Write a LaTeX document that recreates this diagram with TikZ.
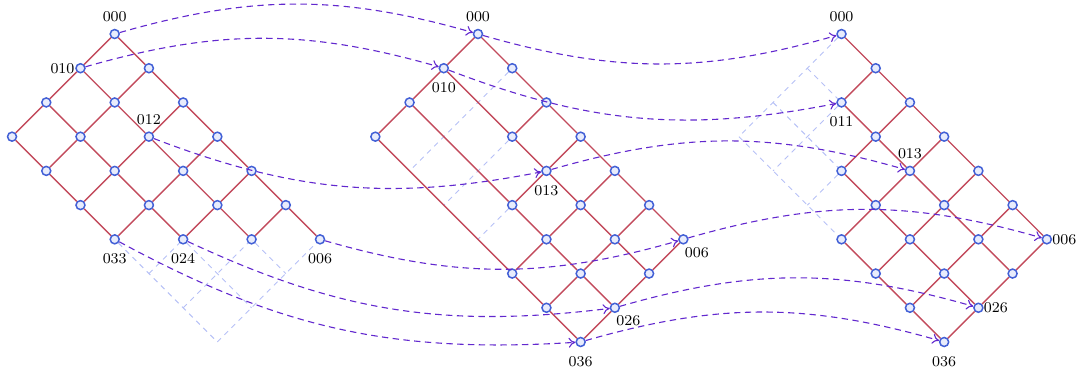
\documentclass[tikz,border=0pt]{standalone}
\usetikzlibrary{arrows.meta}
\definecolor{edgered}{RGB}{194,74,92}
\definecolor{nodeblue}{RGB}{66,96,214}
\definecolor{nodefill}{RGB}{232,236,252}
\definecolor{arrowpurple}{RGB}{98,40,206}
\definecolor{ghostblue}{RGB}{182,192,246}
\tikzset{
  vtx/.style={circle, draw=nodeblue, fill=nodefill, line width=0.75pt, minimum size=4.5pt, inner sep=0pt},
  edge/.style={draw=edgered, line width=0.7pt},
  ghost/.style={draw=ghostblue, line width=0.45pt, dash pattern=on 2.6pt off 2.4pt},
  mapping/.style={draw=arrowpurple, line width=0.55pt, dash pattern=on 3.2pt off 2.2pt, -{To[length=3.4pt,width=5pt]}},
  lbl/.style={inner sep=0pt, font=\fontsize{7.5}{9}\selectfont},
}
\begin{document}
\begin{tikzpicture}[x=0.5pt,y=0.5pt]
\useasboundingbox (0,0) rectangle (1077,-372);
% grid positions
\foreach \p/\X in {a/114.7, b/478, c/841.5}{
  \foreach \i in {0,...,3}{
    \foreach \j in {0,...,6}{
      \coordinate (g\p-\i-\j) at ({\X+34.22*(\j-\i)},{-34-34.22*(\i+\j)});
}}}
% nodes, panel 1
\foreach \i/\j in {0/0,0/1,0/2,0/3,0/4,0/5,0/6,1/0,1/1,1/2,1/3,1/4,1/5,2/0,2/1,2/2,2/3,2/4,3/0,3/1,3/2,3/3}
  \node[vtx] (a-\i-\j) at (ga-\i-\j) {};
% nodes, panel 2
\foreach \i/\j in {0/0,0/1,0/2,0/3,0/4,0/5,0/6,1/0,1/2,1/3,1/4,1/5,1/6,2/0,2/3,2/4,2/5,2/6,3/0,3/4,3/5,3/6}
  \node[vtx] (b-\i-\j) at (gb-\i-\j) {};
% nodes, panel 3
\foreach \i/\j in {0/0,0/1,0/2,0/3,0/4,0/5,0/6,1/1,1/2,1/3,1/4,1/5,1/6,2/2,2/3,2/4,2/5,2/6,3/3,3/4,3/5,3/6}
  \node[vtx] (c-\i-\j) at (gc-\i-\j) {};
% ghost lines
\draw[ghost] (a-3-3) -- (ga-3-6);
\draw[ghost] (a-2-4) -- (ga-2-6);
\draw[ghost] (a-1-5) -- (ga-1-6);
\draw[ghost] (ga-3-4) -- (a-2-4);
\draw[ghost] (ga-3-5) -- (a-1-5);
\draw[ghost] (ga-3-6) -- (a-0-6);
\draw[ghost] (b-0-1) -- (gb-3-1);
\draw[ghost] (b-1-2) -- (gb-3-2);
\draw[ghost] (b-2-3) -- (gb-3-3);
\draw[ghost] (c-0-0) -- (gc-3-0);
\draw[ghost] (gc-1-0) -- (c-1-1);
\draw[ghost] (gc-2-0) -- (c-2-2);
\draw[ghost] (gc-3-0) -- (c-3-3);
\draw[ghost] (c-1-1) -- (gc-3-1);
\draw[ghost] (c-2-2) -- (gc-3-2);
% edges, panel 1
\foreach \i in {0,...,3}{
  \foreach \j in {0,...,6}{
    \pgfmathtruncatemacro\s{\i+\j}
    \pgfmathtruncatemacro\ni{\i+1}
    \pgfmathtruncatemacro\nj{\j+1}
    \ifnum\s<6
      \draw[edge] (a-\i-\j) -- (a-\i-\nj);
      \ifnum\i<3 \draw[edge] (a-\i-\j) -- (a-\ni-\j); \fi
    \fi
}}
% edges, panel 2
\foreach \u/\v in {0-0/0-1,0-1/0-2,0-2/0-3,0-3/0-4,0-4/0-5,0-5/0-6,
  1-0/1-2,1-2/1-3,1-3/1-4,1-4/1-5,1-5/1-6,
  2-0/2-3,2-3/2-4,2-4/2-5,2-5/2-6,
  3-0/3-4,3-4/3-5,3-5/3-6,
  0-0/1-0,1-0/2-0,2-0/3-0,
  0-2/1-2,0-3/1-3,1-3/2-3,
  0-4/1-4,1-4/2-4,2-4/3-4,
  0-5/1-5,1-5/2-5,2-5/3-5,
  0-6/1-6,1-6/2-6,2-6/3-6}
  \draw[edge] (b-\u) -- (b-\v);
% edges, panel 3
\foreach \i in {0,...,3}{
  \foreach \j in {0,...,6}{
    \pgfmathtruncatemacro\ni{\i+1}
    \pgfmathtruncatemacro\nj{\j+1}
    \ifnum\j<\i\else
      \ifnum\j<6 \draw[edge] (c-\i-\j) -- (c-\i-\nj); \fi
      \ifnum\i<3 \ifnum\j>\i \draw[edge] (c-\i-\j) -- (c-\ni-\j); \fi\fi
    \fi
}}
% labels
\node[lbl] (la000) at ([shift={(0,17.5)}]a-0-0.center) {000};
\node[lbl] (la010) at ([shift={(-18,0)}]a-1-0.center) {010};
\node[lbl] (la012) at ([shift={(0,17.5)}]a-1-2.center) {012};
\node[lbl] (la033) at ([shift={(0,-19.3)}]a-3-3.center) {033};
\node[lbl] (la024) at ([shift={(0,-19.3)}]a-2-4.center) {024};
\node[lbl] (la006) at ([shift={(0,-19.3)}]a-0-6.center) {006};
\node[lbl] (lb000) at ([shift={(0,17.5)}]b-0-0.center) {000};
\node[lbl] (lb010) at ([shift={(0,-19.3)}]b-1-0.center) {010};
\node[lbl] (lb013) at ([shift={(0,-19.3)}]b-1-3.center) {013};
\node[lbl] (lb006) at ([shift={(13.5,-13.3)}]b-0-6.center) {006};
\node[lbl] (lb026) at ([shift={(13.5,-13.3)}]b-2-6.center) {026};
\node[lbl] (lb036) at ([shift={(0,-19.3)}]b-3-6.center) {036};
\node[lbl] (lc000) at ([shift={(0,17.5)}]c-0-0.center) {000};
\node[lbl] (lc011) at ([shift={(0,-19.3)}]c-1-1.center) {011};
\node[lbl] (lc013) at ([shift={(0,17.5)}]c-1-3.center) {013};
\node[lbl] (lc006) at ([shift={(17.5,0)}]c-0-6.center) {006};
\node[lbl] (lc026) at ([shift={(17.5,0)}]c-2-6.center) {026};
\node[lbl] (lc036) at ([shift={(0,-19.3)}]c-3-6.center) {036};
% mappings
\draw[mapping] (a-0-0) to[bend left=16] (b-0-0);
\draw[mapping] (a-1-0) to[bend left=16] (b-1-0);
\draw[mapping] (a-1-2) to[bend right=16] (b-1-3);
\draw[mapping] (a-0-6) to[bend right=16] (b-0-6);
\draw[mapping] (a-2-4) to[bend right=16] (b-2-6);
\draw[mapping] (a-3-3) to[bend right=16] (b-3-6);
\draw[mapping] (b-0-0) to[bend right=16] (c-0-0);
\draw[mapping] (b-1-0) to[bend right=16] (c-1-1);
\draw[mapping] (b-1-3) to[bend left=16] (c-1-3);
\draw[mapping] (b-0-6) to[bend left=16] (c-0-6);
\draw[mapping] (b-2-6) to[bend left=16] (c-2-6);
\draw[mapping] (b-3-6) to[bend left=16] (c-3-6);
\end{tikzpicture}
\end{document}
